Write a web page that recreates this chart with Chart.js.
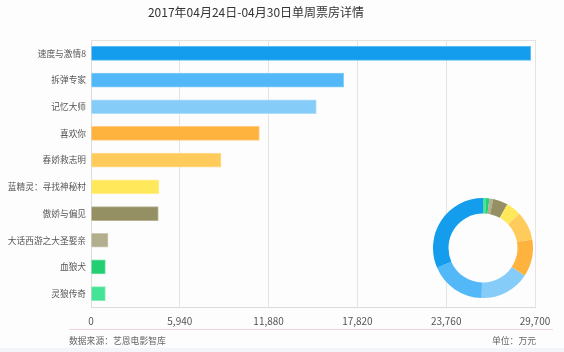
<!DOCTYPE html>
<html>
<head>
<meta charset="utf-8">
<script src="https://cdn.jsdelivr.net/npm/chart.js@4"></script>
<style>
  html, body { margin: 0; padding: 0; background: #fdfdfe; }
  #wrap { position: relative; width: 564px; height: 352px; overflow: hidden;
          font-family: "Noto Sans CJK SC", "Noto Sans", sans-serif; }
  #bar { position: absolute; left: 0; top: 0; }
  #pie { position: absolute; left: 433px; top: 198px; }
  .title { position: absolute; left: 144px; top: 3px; width: 224px; text-align: center;
           font-size: 12px; color: #333; white-space: nowrap; }
  .line { position: absolute; left: 69px; top: 329px; width: 484px; height: 1px; background: #f3d3dc; }
  .src { position: absolute; left: 69px; top: 334px; font-size: 8.8px; color: #666; }
  .unit { position: absolute; right: 28px; top: 334px; font-size: 8.8px; color: #666; }
  .band { position: absolute; left: 0; top: 348px; width: 564px; height: 4px; background: #f4f4fb; }
</style>
</head>
<body>
<div id="wrap">
  <canvas id="bar" width="564" height="352"></canvas>
  <canvas id="pie" width="100" height="100"></canvas>
  <div class="title">2017年04月24日-04月30日单周票房详情</div>
  <div class="line"></div>
  <div class="src">数据来源：艺恩电影智库</div>
  <div class="unit">单位：万元</div>
  <div class="band"></div>
</div>
<script>
// box office, 万元
const movies = ['速度与激情8', '拆弹专家', '记忆大师', '喜欢你', '春娇救志明',
                '蓝精灵：寻找神秘村', '傲娇与偏见', '大话西游之大圣娶亲', '血狼犬', '灵狼传奇'];
const boxOffice = [29410, 16900, 15070, 11260, 8700, 4550, 4500, 1140, 960, 960];
const xMax = 29700;
const xStep = 5940;

const colors = ['#149ded', '#52b8f7', '#86ccf9', '#ffb33f', '#ffcc5c',
                '#ffe85a', '#959064', '#b2ae8e', '#23cf72', '#45e396'];
const borders = ['#5bbcf3', '#86cdf9', '#aedcfb', '#ffcb80', '#ffdd92',
                 '#fff09a', '#b7b392', '#cdcab2', '#6fe0a2', '#85ecb5'];

// top edge of the plot frame
const frame = {
    id: 'frame',
    afterDraw(chart) {
        const a = chart.chartArea, c = chart.ctx;
        c.save();
        c.strokeStyle = '#e2e2e2';
        c.lineWidth = 1;
        c.beginPath();
        c.moveTo(a.left, a.top + 0.5);
        c.lineTo(a.right, a.top + 0.5);
        c.stroke();
        c.restore();
    }
};

new Chart(document.getElementById('bar'), {
    type: 'bar',
    data: {
        labels: movies,
        datasets: [{
            data: boxOffice,
            backgroundColor: colors,
            borderColor: borders,
            borderWidth: 1,
            borderSkipped: 'left',
            barThickness: 14
        }]
    },
    plugins: [frame],
    options: {
        indexAxis: 'y',
        responsive: false,
        animation: false,
        layout: { padding: { left: 0, right: 29, top: 40, bottom: 0 } },
        plugins: { legend: { display: false }, tooltip: { enabled: false } },
        scales: {
            x: {
                min: 0, max: xMax,
                afterFit: s => { s.height = 45; },
                afterBuildTicks: s => {
                    s.ticks = [];
                    for (let v = 0; v <= xMax; v += xStep) s.ticks.push({ value: v });
                },
                grid: { color: '#e4e4e4', drawTicks: false },
                border: { color: '#dcdcdc' },
                ticks: { color: '#555', padding: 8, font: { size: 10, family: 'Noto Sans CJK SC' },
                         callback: v => v.toLocaleString('en-US') }
            },
            y: {
                afterFit: s => { s.width = 91; },
                grid: { display: false, drawTicks: false },
                border: { color: '#dcdcdc' },
                ticks: { color: '#555', padding: 5, font: { size: 8.7, family: 'Noto Sans CJK SC' } }
            }
        }
    }
});

new Chart(document.getElementById('pie'), {
    type: 'doughnut',
    data: {
        labels: movies.slice().reverse(),
        datasets: [{
            data: boxOffice.slice().reverse(),
            backgroundColor: colors.slice().reverse(),
            borderWidth: 0
        }]
    },
    options: {
        responsive: false,
        animation: false,
        cutout: '69%',
        plugins: { legend: { display: false }, tooltip: { enabled: false } }
    }
});
</script>
</body>
</html>
